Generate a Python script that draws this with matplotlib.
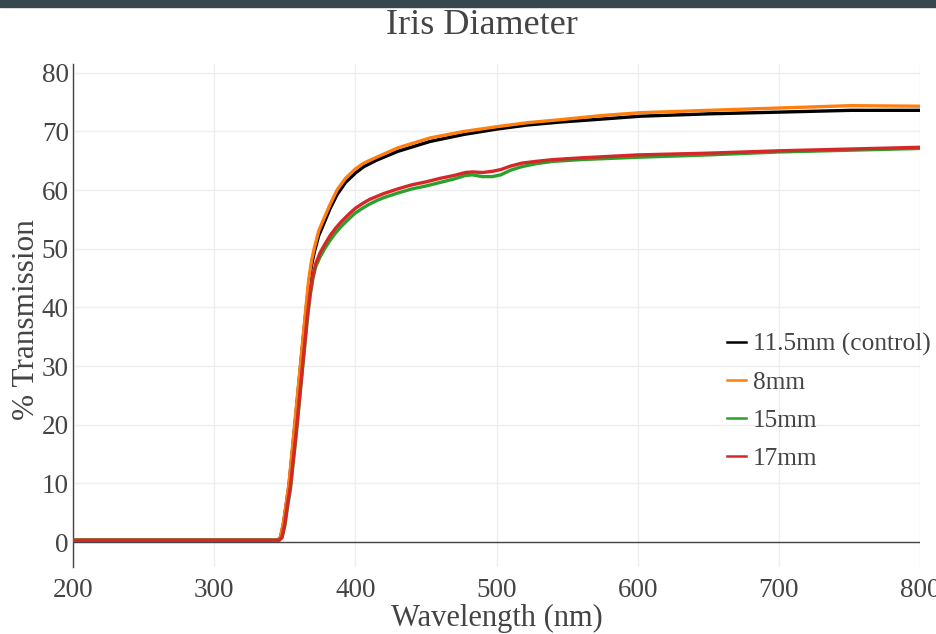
"""Transmission spectra for several iris diameters."""

import matplotlib

matplotlib.use("Agg")
import matplotlib.pyplot as plt
from matplotlib.patches import Rectangle

TEXT_COLOR = "#444444"
FONT = "Liberation Serif"

# 11.5mm (control)
wl_control = [200, 345, 347, 349, 351, 353, 355, 357, 359, 361, 363, 365, 367, 369, 371,
              374, 377.5, 382, 387, 393, 400, 406, 415, 430, 453, 477, 500, 522, 545,
              574, 602, 650, 701, 751, 800]
t_control = [0.3, 0.3, 0.8, 3.0, 6.3, 9.7, 14.5, 19.5, 24.5, 29.5, 34.5, 39.3, 44.0, 47.2, 49.5,
             52.2, 54.2, 56.8, 59.2, 61.3, 62.9, 64.0, 65.1, 66.6, 68.3, 69.5, 70.4, 71.1, 71.6,
             72.1, 72.6, 73.0, 73.3, 73.6, 73.6]

# 8mm
wl_8mm = [200, 345, 347, 349, 351, 353, 355, 357, 359, 361, 363, 365, 367, 369, 371,
          374, 377.5, 382, 387, 393, 400, 406, 415, 430, 453, 477, 500, 522, 545,
          574, 602, 650, 701, 751, 800]
t_8mm = [0.3, 0.3, 0.9, 3.2, 6.5, 10.0, 15.0, 20.0, 25.0, 30.0, 35.0, 40.0, 44.8, 48.0, 50.2,
         53.0, 55.0, 57.5, 60.0, 62.0, 63.6, 64.6, 65.6, 67.2, 68.9, 70.0, 70.8, 71.5, 72.0,
         72.7, 73.2, 73.6, 74.0, 74.4, 74.3]

# 15mm
wl_15mm = [200, 346, 348, 350, 352, 354, 356, 358, 360, 362, 364, 366, 368, 370, 372,
           375, 378, 382, 386, 390, 395, 400, 405, 410, 415, 420, 430, 440, 450, 460,
           470, 478, 483, 490, 497, 503, 510, 518, 528, 540, 560, 600, 650, 700, 750, 800]
t_15mm = [0.3, 0.3, 0.7, 2.7, 6.0, 9.0, 13.5, 18.0, 23.0, 28.0, 33.0, 38.0, 42.0, 45.0, 47.0,
          48.6, 49.9, 51.4, 52.7, 53.8, 55.0, 56.1, 56.9, 57.6, 58.2, 58.7, 59.5, 60.2, 60.7, 61.3,
          61.9, 62.5, 62.6, 62.3, 62.3, 62.6, 63.4, 64.0, 64.5, 64.9, 65.2, 65.6, 66.0, 66.5, 66.8, 67.1]

# 17mm
wl_17mm = [200, 346, 348, 350, 352, 354, 356, 358, 360, 362, 364, 366, 368, 370, 372,
           375, 378, 382, 386, 390, 395, 400, 405, 410, 415, 420, 430, 440, 450, 460,
           470, 478, 483, 490, 497, 503, 510, 518, 528, 540, 560, 600, 650, 700, 750, 800]
t_17mm = [0.3, 0.3, 0.8, 3.0, 6.5, 9.5, 14.0, 18.5, 23.5, 28.5, 33.5, 38.5, 42.5, 45.5, 47.5,
          49.3, 50.6, 52.2, 53.5, 54.6, 55.8, 56.9, 57.7, 58.4, 58.9, 59.4, 60.2, 60.9, 61.4, 62.0,
          62.5, 63.0, 63.1, 63.0, 63.2, 63.5, 64.1, 64.6, 64.9, 65.2, 65.5, 66.0, 66.3, 66.7, 67.0, 67.3]

series = [
    ("11.5mm (control)", wl_control, t_control, "#000000"),
    ("8mm", wl_8mm, t_8mm, "#ff7f0e"),
    ("15mm", wl_15mm, t_15mm, "#2ca02c"),
    ("17mm", wl_17mm, t_17mm, "#d62728"),
]

x_ticks = [200, 300, 400, 500, 600, 700, 800]
y_ticks = [0, 10, 20, 30, 40, 50, 60, 70, 80]

fig_w, fig_h = 936, 634
fig = plt.figure(figsize=(fig_w / 100, fig_h / 100), dpi=100)
fig.add_artist(Rectangle((0, 1 - 7 / fig_h), 1, 7 / fig_h, transform=fig.transFigure,
                         color="#37474f", zorder=10))

left, right, top, bottom = 73, 920, 64, 567
axis = fig.add_axes([left / fig_w, (fig_h - bottom) / fig_h,
                     (right - left) / fig_w, (bottom - top) / fig_h])

for label, wl, trans, color in series:
    axis.plot(wl, trans, color=color, linewidth=2.4, label=label, zorder=3)

axis.axhline(0, color="#444444", linewidth=1.0, zorder=2)
axis.set_xlim(200, 800)
axis.set_ylim(-4.26, 81.5)
axis.set_xticks(x_ticks)
axis.set_yticks(y_ticks)
axis.grid(True, color="#eeeeee", linewidth=1.0, zorder=0)
axis.set_axisbelow(True)

for side in ["top", "right", "bottom"]:
    axis.spines[side].set_visible(False)
axis.spines["left"].set_color("#444444")
axis.spines["left"].set_linewidth(1.0)

axis.tick_params(axis="both", length=0, labelsize=19.5, labelcolor=TEXT_COLOR)
axis.tick_params(axis="x", pad=8)
axis.tick_params(axis="y", pad=3)
for tick in axis.get_xticklabels() + axis.get_yticklabels():
    tick.set_family(FONT)

axis.set_xlabel("Wavelength (nm)", family=FONT, fontsize=22, color=TEXT_COLOR, va="center")
axis.xaxis.set_label_coords(0.5, (fig_h - 618 - (fig_h - bottom)) / (bottom - top))
axis.set_ylabel("% Transmission", family=FONT, fontsize=22.5, color=TEXT_COLOR, va="center")
axis.yaxis.set_label_coords((27 - left) / (right - left), (bottom - 320) / (bottom - top))

fig.text(482 / fig_w, 1 - 26 / fig_h, "Iris Diameter", family=FONT, fontsize=26,
         color=TEXT_COLOR, ha="center", va="center")

legend = axis.legend(loc="upper left", bbox_to_anchor=(727 / fig_w, 1 - 333 / fig_h),
                     bbox_transform=fig.transFigure, frameon=False, handlelength=0.75,
                     handletextpad=0.28, labelspacing=0.6, borderpad=0, borderaxespad=0,
                     prop={"family": FONT, "size": 18.3})
for line in legend.get_lines():
    line.set_linewidth(1.8)
for text in legend.get_texts():
    text.set_color(TEXT_COLOR)

fig.savefig("out.png", dpi=100)
plt.close(fig)
